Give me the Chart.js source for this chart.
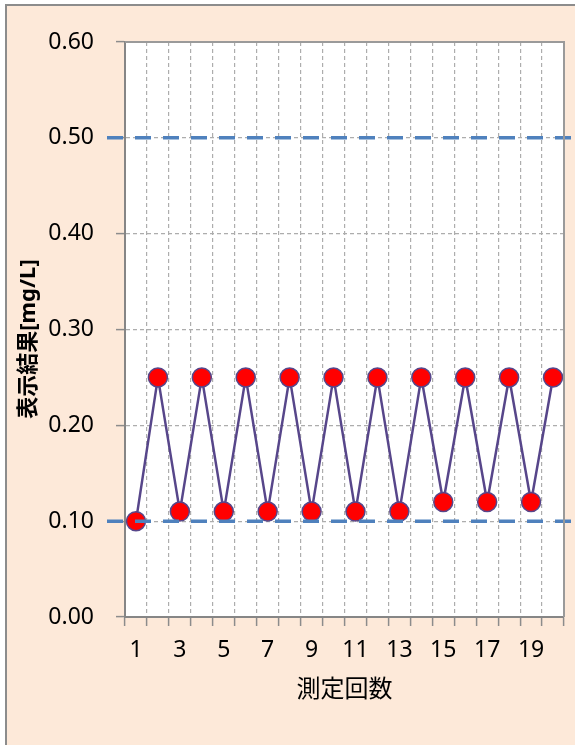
<!DOCTYPE html>
<html lang="ja">
<head>
  <meta charset="UTF-8">
  <title>測定回数と表示結果</title>
  <script src="https://cdn.jsdelivr.net/npm/chart.js"></script>
  <style>
    body { margin: 0; background: #ffffff; }
    #wrap { width: 575px; height: 745px; }
  </style>
</head>
<body>
  <div id="wrap"><canvas id="chart" width="575" height="745"></canvas></div>

  <script>
    // データ
    const runs = ['1','2','3','4','5','6','7','8','9','10','11','12','13','14','15','16','17','18','19','20'];
    const results = [0.10, 0.25, 0.11, 0.25, 0.11, 0.25, 0.11, 0.25, 0.11, 0.25,
                     0.11, 0.25, 0.11, 0.25, 0.12, 0.25, 0.12, 0.25, 0.12, 0.25];
    const limitLines = [0.10, 0.50];
    const yTicks = { min: 0, max: 0.6, step: 0.1 };
    const yTitle = '表示結果[mg/L]';
    const xTitle = '測定回数';

    const fontFamily = "'Noto Sans', 'Noto Sans CJK JP', sans-serif";
    Chart.defaults.font.family = fontFamily;
    Chart.defaults.color = '#000000';

    // 枠と背景
    const framePlugin = {
      id: 'frame',
      beforeDraw(chart) {
        const { ctx, chartArea: a } = chart;
        ctx.save();
        ctx.fillStyle = '#ffffff';
        ctx.fillRect(0, 0, chart.width, chart.height);
        ctx.fillStyle = '#FDE9D9';
        ctx.fillRect(6, 5, chart.width - 6, chart.height - 5);
        ctx.strokeStyle = '#8c8c8c';
        ctx.lineWidth = 2;
        ctx.beginPath();
        ctx.moveTo(6, chart.height);
        ctx.lineTo(6, 5);
        ctx.lineTo(chart.width, 5);
        ctx.stroke();
        ctx.fillStyle = '#ffffff';
        ctx.fillRect(a.left, a.top, a.right - a.left, a.bottom - a.top);
        ctx.restore();
      },
      afterDraw(chart) {
        const { ctx, chartArea: a } = chart;
        ctx.save();
        ctx.strokeStyle = '#9a9a9a';
        ctx.lineWidth = 2;
        ctx.beginPath();
        ctx.moveTo(a.left, a.top);
        ctx.lineTo(a.right, a.top);
        ctx.lineTo(a.right, a.bottom);
        ctx.stroke();
        // 縦軸タイトル（少し下寄り）
        ctx.translate(29, 339);
        ctx.rotate(-Math.PI / 2);
        ctx.font = 'bold 22px ' + fontFamily;
        ctx.fillStyle = '#000000';
        ctx.textAlign = 'center';
        ctx.textBaseline = 'middle';
        ctx.fillText(yTitle, 0, 0);
        ctx.restore();
      }
    };

    // 基準線（青い破線）
    const limitPlugin = {
      id: 'limits',
      afterDatasetsDraw(chart) {
        const { ctx, chartArea: a, scales: { y } } = chart;
        ctx.save();
        ctx.strokeStyle = '#4F81BD';
        ctx.lineWidth = 3.5;
        ctx.setLineDash([16, 12]);
        limitLines.forEach(v => {
          const py = y.getPixelForValue(v);
          ctx.beginPath();
          ctx.moveTo(a.left - 18, py);
          ctx.lineTo(a.right + 7, py);
          ctx.stroke();
        });
        ctx.restore();
      }
    };

    const gridOpts = {
      color: '#ADADAD',
      lineWidth: 1.2,
      tickBorderDash: [],
      tickColor: '#8c8c8c',
      tickLength: 9,
      tickWidth: 1.5
    };

    new Chart(document.getElementById('chart'), {
      type: 'line',
      data: {
        labels: runs,
        datasets: [{
          data: results,
          borderColor: '#57468A',
          borderWidth: 2.5,
          tension: 0,
          pointRadius: 9.5,
          pointBackgroundColor: '#FF0000',
          pointBorderColor: '#57468A',
          pointBorderWidth: 1.5
        }]
      },
      options: {
        responsive: false,
        devicePixelRatio: 1,
        animation: false,
        layout: { padding: { left: 0, right: 11, top: 42, bottom: 0 } },
        plugins: { legend: { display: false }, tooltip: { enabled: false } },
        scales: {
          x: {
            offset: true,
            afterFit: s => { s.height = 128; },
            grid: Object.assign({ offset: true }, gridOpts),
            border: { color: '#868686', width: 2, dash: [4, 3] },
            ticks: {
              autoSkip: false,
              maxRotation: 0,
              padding: 11,
              font: { size: 23 },
              callback: function (v, i) { return i % 2 === 0 ? this.getLabelForValue(v) : ''; }
            },
            title: {
              display: true,
              text: xTitle,
              font: { size: 24 },
              padding: { top: 0, bottom: 40 }
            }
          },
          y: {
            min: yTicks.min,
            max: yTicks.max,
            afterFit: s => { s.width = 125; },
            grid: gridOpts,
            border: { color: '#868686', width: 2, dash: [4, 3] },
            ticks: {
              stepSize: yTicks.step,
              padding: 22,
              font: { size: 23 },
              callback: v => v.toFixed(2)
            }
          }
        }
      },
      plugins: [framePlugin, limitPlugin]
    });
  </script>
</body>
</html>
